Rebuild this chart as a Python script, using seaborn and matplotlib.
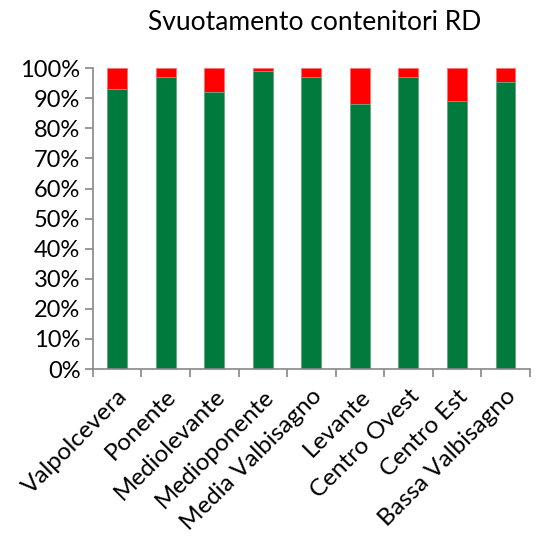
import matplotlib
matplotlib.use("Agg")
import matplotlib.pyplot as plt
import seaborn as sns
import pandas as pd
import numpy as np
from matplotlib.ticker import FixedLocator, PercentFormatter

categories = ["Valpolcevera", "Ponente", "Mediolevante", "Medioponente",
              "Media Valbisagno", "Levante", "Centro Ovest", "Centro Est",
              "Bassa Valbisagno"]
green_vals = [93, 97, 92, 99, 97, 88, 97, 89, 95.3]
red_vals = [7, 3, 8, 1, 3, 12, 3, 11, 4.7]
yticks = list(range(0, 101, 10))

sns.set_theme(style="white")
plt.rcParams['font.family'] = ['Lato', 'DejaVu Sans']

df = pd.DataFrame({"cat": categories, "green": green_vals, "red": red_vals})
df["total"] = df["green"] + df["red"]

fig = plt.figure(figsize=(5.4, 5.5), dpi=100)
ax = fig.add_axes([0.172, 0.329, 0.809, 0.547])

sns.barplot(data=df, x="cat", y="total", color="#FF0000", saturation=1,
            width=0.41, ax=ax, edgecolor="#FF7070", linewidth=0.6)
sns.barplot(data=df, x="cat", y="green", color="#007A3D", saturation=1,
            width=0.41, ax=ax, edgecolor="#66B08A", linewidth=0.6)

ax.set_ylim(0, 100)
ax.set_xlim(-0.5, len(categories) - 0.5)
ax.set_yticks(yticks)
ax.yaxis.set_major_formatter(PercentFormatter(decimals=0))
ax.set_xlabel("")
ax.set_ylabel("")

for s in ["top", "right"]:
    ax.spines[s].set_visible(False)
for s in ["left", "bottom"]:
    ax.spines[s].set_color("#878787")
    ax.spines[s].set_linewidth(1.2)

ax.tick_params(axis="y", which="major", direction="out", length=6, width=1.2,
               color="#878787", labelsize=17, pad=3, left=True)
ax.tick_params(axis="x", which="major", length=0, labelsize=17.5, pad=12)
ax.xaxis.set_minor_locator(FixedLocator(np.arange(-0.5, len(categories), 1.0)))
ax.tick_params(axis="x", which="minor", direction="out", length=6, width=1.2,
               color="#878787", bottom=True)

ax.set_xticks(range(len(categories)))
ax.set_xticklabels(categories, rotation=45, ha="right", rotation_mode="anchor")
for lab in ax.get_yticklabels() + ax.get_xticklabels():
    lab.set_color("black")

fig.text(0.583, 0.96, "Svuotamento contenitori RD", ha="center", va="center",
         fontsize=19, color="black")

fig.savefig("out.png", dpi=100)
